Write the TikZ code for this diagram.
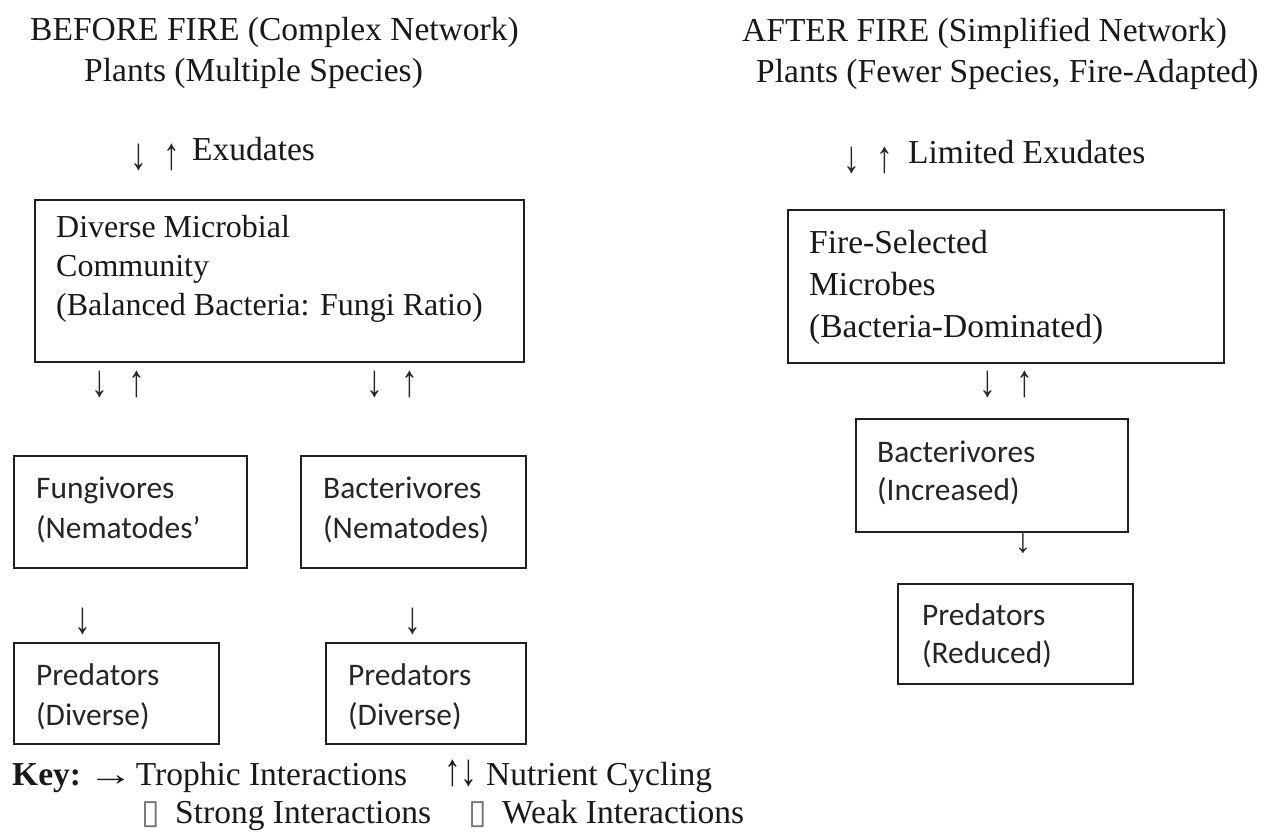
\documentclass[tikz,border=0pt]{standalone}
\usepackage{fontspec}
\usepackage{graphicx}
\setmainfont{Liberation Serif}
\newfontfamily\carlfont{Carlito}
\newfontfamily\djvfont{DejaVu Sans}
\newcommand\tsz{\fontsize{33.5}{40}\selectfont}
\newcommand\tszs{\fontsize{32}{39}\selectfont}
\newcommand\csz{\carlfont\fontsize{31.4}{40}\selectfont}
\newcommand\dnarr{\scalebox{1}[1.35]{↓}}
\newcommand\uparr{\scalebox{1}[1.35]{↑}}
\newcommand\rtarr{\scalebox{1.35}[1]{→}}
\begin{document}
\begin{tikzpicture}[x=1pt,y=-1pt,
  box/.style={draw=black!88, line width=1.7pt, anchor=north west, inner sep=0pt},
  tx/.style={anchor=base west, inner sep=0pt, font=\tsz, text=black!90},
  cx/.style={anchor=base west, inner sep=0pt, font=\csz, text=black!85},
  ar/.style={inner sep=0pt, font=\tsz, text=black!85},
  tofu/.style={anchor=base west, inner sep=0pt, font=\djvfont\fontsize{34}{34}\selectfont, text=black!55}]
\useasboundingbox[fill=white] (0,0) rectangle (1283,831);

% ---------- BEFORE FIRE ----------
\node[tx] (t1) at (30,40) {BEFORE FIRE (Complex Network)};
\node[tx] (p1) at (84,81) {Plants (Multiple Species)};
\node[ar] (e1d) at (139,157) {\dnarr};
\node[ar] (e1u) at (171.5,157) {\uparr};
\node[tx] (e1) at (192,160) {Exudates};

\node[box, minimum width=489pt, minimum height=162pt] (micro1) at (34,199) {};
\node[tx, font=\tszs] (m1a) at (56,237) {Diverse Microbial};
\node[tx, font=\tszs] (m1b) at (56,276) {Community};
\node[tx, font=\tszs] (m1c) at (56,315) {(Balanced Bacteria: Fungi Ratio)};

\node[ar] (a1d) at (100,384) {\dnarr};
\node[ar] (a1u) at (137,384) {\uparr};
\node[ar] (a2d) at (375,384) {\dnarr};
\node[ar] (a2u) at (410,384) {\uparr};

\node[box, minimum width=233pt, minimum height=112pt] (fung) at (13,455) {};
\node[cx] (fa) at (36,498) {Fungivores};
\node[cx] (fb) at (36,538) {(Nematodes’};

\node[box, minimum width=225pt, minimum height=112pt] (bact1) at (300,455) {};
\node[cx] (ba) at (323,498) {Bacterivores};
\node[cx] (bb) at (323,538) {(Nematodes)};

\node[ar] (f2p) at (83,621) {\dnarr};
\node[ar] (b2p) at (413,621) {\dnarr};

\node[box, minimum width=205pt, minimum height=101pt] (pred1) at (13,642) {};
\node[cx] (pa) at (36,685) {Predators};
\node[cx] (pb) at (36,725) {(Diverse)};

\node[box, minimum width=200pt, minimum height=101pt] (pred2) at (325,642) {};
\node[cx] (qa) at (348,685) {Predators};
\node[cx] (qb) at (348,725) {(Diverse)};

% ---------- AFTER FIRE ----------
\node[tx] (t2) at (742,41) {AFTER FIRE (Simplified Network)};
\node[tx] (p2) at (756,82) {Plants (Fewer Species, Fire-Adapted)};
\node[ar] (e2d) at (852,160) {\dnarr};
\node[ar] (e2u) at (885,160) {\uparr};
\node[tx] (e2) at (908,163) {Limited Exudates};

\node[box, minimum width=436pt, minimum height=153pt] (micro2) at (787,209) {};
\node[tx] (m2a) at (809,253) {Fire-Selected};
\node[tx] (m2b) at (809,295) {Microbes};
\node[tx] (m2c) at (809,337) {(Bacteria-Dominated)};

\node[ar] (a3d) at (988,384) {\dnarr};
\node[ar] (a3u) at (1025,384) {\uparr};

\node[box, minimum width=272pt, minimum height=113pt] (bact2) at (855,418) {};
\node[cx] (ca) at (877,462) {Bacterivores};
\node[cx] (cb) at (877,500) {(Increased)};

\node[ar] (b2r) at (1023,544) {↓};

\node[box, minimum width=235pt, minimum height=100pt] (pred3) at (897,583) {};
\node[cx] (ra) at (922,625) {Predators};
\node[cx] (rb) at (922,663) {(Reduced)};

% ---------- Key ----------
\node[tx, font=\tsz\bfseries] (key) at (12,785) {Key:};
\node[tx] (k1) at (88,785) {\rtarr\hspace{-6pt} Trophic Interactions};
\node[tx] (k2) at (444,785) {\uparr\dnarr\ Nutrient Cycling};
\node[tofu] (s1) at (141,823) {▯};
\node[tx] (k3) at (175,823) {Strong Interactions};
\node[tofu] (s2) at (468,823) {▯};
\node[tx] (k4) at (502,823) {Weak Interactions};
\end{tikzpicture}
\end{document}
